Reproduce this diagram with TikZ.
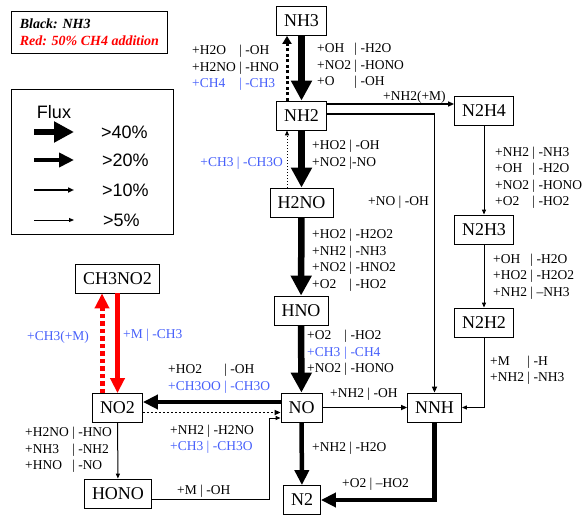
\documentclass[tikz,border=0pt]{standalone}
\usepackage{fontspec}
\setmainfont{Liberation Serif}
\newfontfamily\legendfont{Liberation Sans}
\usetikzlibrary{arrows.meta}

\definecolor{cblue}{RGB}{70,95,250}
\newcommand{\bl}{\color{cblue}}

\tikzset{
  species/.style={draw, line width=0.8pt, font=\fontsize{18}{20}\selectfont, minimum height=29pt, inner xsep=7.5pt},
  lbl/.style={inner sep=0pt, anchor=west, font=\fontsize{13.5}{16.5}\selectfont},
  fxa/.style={line width=6.5pt, -{Triangle[length=20pt,width=20pt]}},
  fxb/.style={line width=4.5pt, -{Triangle[length=15pt,width=14pt]}},
  fxc/.style={line width=1.6pt, -{Triangle[length=6pt,width=5pt]}},
  fxd/.style={line width=1pt, -{Triangle[length=5pt,width=4pt]}},
  back/.style={line width=3pt, dash pattern=on 3pt off 2.5pt, -{Triangle[length=8pt,width=9pt]}},
}

\begin{document}
\begin{tikzpicture}[x=1pt, y=-1pt]
  \useasboundingbox (0,0) rectangle (586,516);

  % note and legend
  \node[draw, line width=0.8pt, anchor=north west, minimum width=156pt, minimum height=42pt, align=left,
        font=\fontsize{14}{17}\selectfont\bfseries\itshape] (note) at (11,11)
        {Black: NH3\\\textcolor{red}{Red: 50\% CH4 addition}};

  \node[draw, line width=0.8pt, anchor=north west, minimum width=162pt, minimum height=145pt] (legend) at (11,89) {};
  \node[font=\legendfont\fontsize{18}{20}\selectfont] (flux) at (54,112) {Flux};
  \draw[fxa] (34,132) -- (74,132);
  \draw[fxb] (34,160) -- (74,160);
  \draw[fxc] (34,190) -- (74,190);
  \draw[fxd] (34,220) -- (74,220);
  \node[lbl, font=\legendfont\fontsize{18}{20}\selectfont] (p40) at (101,132) {>40\%};
  \node[lbl, font=\legendfont\fontsize{18}{20}\selectfont] (p20) at (102,160) {>20\%};
  \node[lbl, font=\legendfont\fontsize{18}{20}\selectfont] (p10) at (102,190) {>10\%};
  \node[lbl, font=\legendfont\fontsize{18}{20}\selectfont] (p5) at (103,220) {>5\%};

  % species
  \node[species] (nh3) at (301.5,21) {NH3};
  \node[species] (nh2) at (301.5,115.5) {NH2};
  \node[species] (h2no) at (301.5,202.5) {H2NO};
  \node[species] (hno) at (301,310.5) {HNO};
  \node[species] (no) at (301.5,407.5) {NO};
  \node[species] (n2) at (302,500) {N2};
  \node[species] (n2h4) at (484,110.5) {N2H4};
  \node[species] (n2h3) at (484,229.5) {N2H3};
  \node[species] (n2h2) at (484,322.5) {N2H2};
  \node[species] (nnh) at (434.5,407.5) {NNH};
  \node[species] (no2) at (117.5,408) {NO2};
  \node[species] (hono) at (118,493.5) {HONO};
  \node[species] (ch3no2) at (117.5,278.5) {CH3NO2};

  % main chain
  \draw[fxa] (nh3) -- (nh2);
  \draw[back] ([xshift=-14.5pt]nh2.north) -- ([xshift=-14.5pt]nh3.south);
  \draw[fxa] (nh2) -- (h2no);
  \draw[fxd, dotted] ([xshift=-14.5pt]h2no.north) -- ([xshift=-14.5pt]nh2.south);
  \draw[fxa] (h2no) -- (hno);
  \draw[fxa] (hno) -- (no);
  \draw[fxb] (no) -- (n2);

  % N2H4 branch
  \draw[fxc] ([yshift=11.5pt]nh2.east) -- ([yshift=11.5pt]nh2.east -| n2h4.west);
  \draw[fxc] ([yshift=1.5pt]nh2.east) -| (nnh);
  \draw[fxd] (n2h4) -- (n2h3);
  \draw[fxd] (n2h3) -- (n2h2);
  \draw[fxd] (n2h2) |- (nnh);
  \draw[fxb] (nnh) |- (n2);
  \draw[fxc] (no) -- (nnh);

  % NO2 loop
  \draw[fxb] ([yshift=5.5pt]no.west) -- ([yshift=5.5pt]no.west -| no2.east);
  \draw[fxc, dash pattern=on 2pt off 2pt] ([yshift=-4.5pt]no2.east) -- ([yshift=-4.5pt]no2.east -| no.west);
  \draw[fxd] (no2) -- (hono);
  \draw[fxd] ([yshift=-5.5pt]hono.east) -- ++(118,0) |- ([yshift=-10.5pt]no.west);
  \draw[fxb, red] (ch3no2) -- (no2);
  \draw[fxb, red, line width=5pt, dash pattern=on 4.5pt off 3pt] ([xshift=-15.5pt]no2.north) -- ([xshift=-15.5pt]ch3no2.south);

  % reaction labels
  \node[lbl] (nh3nh2l) at (192,68) {\begin{tabular}{@{}l@{ }l@{}}+H2O & | -OH\\ +H2NO & | -HNO\\ \bl +CH4 & \bl | -CH3\end{tabular}};
  \node[lbl] (nh3nh2r) at (317,66) {\begin{tabular}{@{}l@{ }l@{}}+OH & | -H2O\\ +NO2 & | -HONO\\ +O & | -OH\end{tabular}};
  \node[lbl] (nh2n2h4) at (383,97) {+NH2(+M)};
  \node[lbl] (nh2h2nor) at (312,154.5) {\begin{tabular}{@{}l@{}}+HO2 | -OH\\ +NO2 |-NO\end{tabular}};
  \node[lbl, anchor=east] (nh2h2nol) at (283,163) {\bl +CH3 | -CH3O};
  \node[lbl] (nh2nnh) at (368,202) {+NO | -OH};
  \node[lbl] (n2h4n2h3) at (495,177.5) {\begin{tabular}{@{}l@{ }l@{}}+NH2 & | -NH3\\ +OH & | -H2O\\ +NO2 & | -HONO\\ +O2 & | -HO2\end{tabular}};
  \node[lbl] (n2h3n2h2) at (493,276.5) {\begin{tabular}{@{}l@{ }l@{}}+OH & | -H2O\\ +HO2 & | -H2O2\\ +NH2 & | –NH3\end{tabular}};
  \node[lbl] (h2nohno) at (312,260) {\begin{tabular}{@{}l@{ }l@{}}+HO2 & | -H2O2\\ +NH2 & | -NH3\\ +NO2 & | -HNO2\\ +O2 & | -HO2\end{tabular}};
  \node[lbl] (n2h2nnh) at (490,370) {\begin{tabular}{@{}l@{ }l@{}}+M & | -H\\ +NH2 & | -NH3\end{tabular}};
  \node[lbl] (hnono) at (307,353) {\begin{tabular}{@{}l@{ }l@{}}+O2 & | -HO2\\ \bl +CH3 & \bl | -CH4\\ +NO2 & | -HONO\end{tabular}};
  \node[lbl] (nonnh) at (330,394) {+NH2 | -OH};
  \node[lbl] (non2) at (312,448) {+NH2 | -H2O};
  \node[lbl] (nnhn2) at (342,484) {+O2 | –HO2};
  \node[lbl] (nono2) at (168,378.5) {\begin{tabular}{@{}l@{ }l@{}}+HO2 & | -OH\\ \bl +CH3OO & \bl | -CH3O\end{tabular}};
  \node[lbl] (no2no) at (170,439) {\begin{tabular}{@{}l@{}}+NH2 | -H2NO\\ \bl +CH3 | -CH3O\end{tabular}};
  \node[lbl] (no2hono) at (25,450) {\begin{tabular}{@{}l@{ }l@{}}+H2NO & | -HNO\\ +NH3 & | -NH2\\ +HNO & | -NO\end{tabular}};
  \node[lbl] (honono) at (177,491) {+M | -OH};
  \node[lbl] (no2ch3no2) at (27,337) {\bl +CH3(+M)};
  \node[lbl] (ch3no2no2) at (123,335) {\bl +M | -CH3};
\end{tikzpicture}
\end{document}
